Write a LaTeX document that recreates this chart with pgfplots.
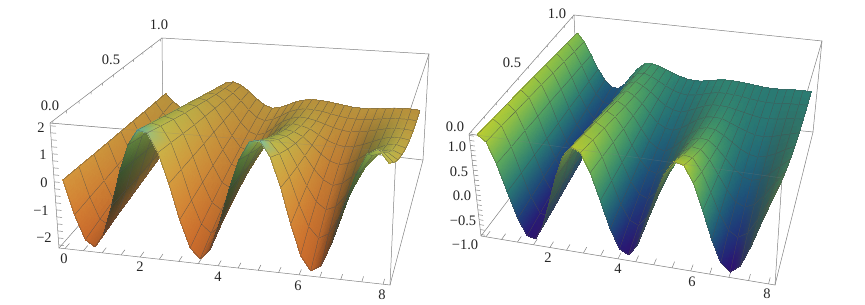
\documentclass[border=0pt]{standalone}
\usepackage{fontspec}
\setmainfont{Liberation Serif}
\usepackage{pgfplots}
\pgfplotsset{compat=1.18}
\usepgfplotslibrary{patchplots}
\tikzset{
  lbl/.style={font=\fontsize{14.5}{15}\selectfont,inner sep=0pt,text=black!85},
  boxl/.style={draw=black!50,line width=.5pt},
}
\begin{document}
\begin{tikzpicture}[declare function={
  bi(\p,\q,\r,\s,\u,\v)=(1-\v)*((1-\u)*\p+\u*\q)+\v*((1-\u)*\r+\u*\s);
  fs(\t,\p)=\t/(1+\p-\p*\t);
  fy(\t)=\t*1.3/(1+.3*\t);
  uL(\x)=fs((\x+.16)/8.32,.08);
  uR(\x)=fs((\x+.16)/8.32,.146);
  vv(\y)=fy((\y+.02)/1.04);
  wL(\z)=(\z+2.36)/4.46;
  wR(\z)=(\z+1.03)/2.06;
  sxL(\x,\y,\z)=(1-wL(\z))*bi(59,390,163,423,uL(\x),vv(\y))+wL(\z)*bi(50,396,162,429,uL(\x),vv(\y));
  syL(\x,\y,\z)=(1-wL(\z))*bi(248,285,130,160,uL(\x),vv(\y))+wL(\z)*bi(123,152,38,54,uL(\x),vv(\y));
  sxR(\x,\y,\z)=(1-wR(\z))*bi(481,775,578,813,uR(\x),vv(\y))+wR(\z)*bi(469,782,574,822,uR(\x),vv(\y));
  syR(\x,\y,\z)=(1-wR(\z))*bi(236,285,108,132,uR(\x),vv(\y))+wR(\z)*bi(134,178,15,41,uR(\x),vv(\y));
}]
\path[use as bounding box] (0,0) rectangle (865pt,305pt);
\def\X{\thisrow{x}}\def\Y{\thisrow{y}}\def\Z{\thisrow{z}}
\def\G{(1-\Y)}
\def\C{cos(128.57*\X)}\def\S{sin(128.57*\X)}
\def\D{((abs(\C)-\C)/2)}
\def\E{((abs(-\S-.9)-\S-.9)*5*(\X<6))}
\def\F{((abs(1-\Y/.12)+1-\Y/.12)/2)}
\def\H{((\Z+1)/2)}
\def\DR{((abs(\S)-\S)/2*\G)}
\begin{axis}[at={(0,0)},anchor=south west,scale only axis,width=865pt,height=305pt,
  xmin=0,xmax=865,ymin=0,ymax=305,y dir=reverse,hide axis,clip=false]
% ---------- left box
\draw[boxl] (axis cs:162,38)--(axis cs:429,54)--(axis cs:423,160)--(axis cs:163,130)--cycle;
\draw[boxl] (axis cs:50,123)--(axis cs:162,38) (axis cs:50,123)--(axis cs:59,248)--(axis cs:390,285)--(axis cs:423,160);
\draw[boxl] (axis cs:59,248)--(axis cs:163,130) (axis cs:429,54)--(axis cs:396,152)--(axis cs:390,285) (axis cs:50,123)--(axis cs:396,152);
% ---------- right box
\draw[boxl] (axis cs:574,15)--(axis cs:822,41)--(axis cs:813,132)--(axis cs:578,108)--cycle;
\draw[boxl] (axis cs:469,134)--(axis cs:574,15) (axis cs:469,134)--(axis cs:481,236)--(axis cs:775,285)--(axis cs:813,132);
\draw[boxl] (axis cs:481,236)--(axis cs:578,108) (axis cs:822,41)--(axis cs:782,178)--(axis cs:775,285) (axis cs:469,134)--(axis cs:782,178);
% ---------- ticks
\pgfplotsinvokeforeach{0,0.5,1,1.5,2,2.5,3,3.5,4,4.5,5,5.5,6,6.5,7,7.5,8}{
  \draw[boxl] (axis cs:{sxL(#1,-.02,-2.36)},{syL(#1,-.02,-2.36)})--(axis cs:{sxL(#1,.015,-2.36)},{syL(#1,.015,-2.36)});
  \draw[boxl] (axis cs:{sxR(#1,-.02,-1.03)},{syR(#1,-.02,-1.03)})--(axis cs:{sxR(#1,.015,-1.03)},{syR(#1,.015,-1.03)});
}
\pgfplotsinvokeforeach{0,.1,.2,.3,.4,.5,.6,.7,.8,.9,1}{
  \draw[boxl] (axis cs:{sxL(-.16,#1,2.1)},{syL(-.16,#1,2.1)})--(axis cs:{sxL(-.16,#1,2.0)},{syL(-.16,#1,2.0)});
  \draw[boxl] (axis cs:{sxR(-.16,#1,1.03)},{syR(-.16,#1,1.03)})--(axis cs:{sxR(-.16,#1,.99)},{syR(-.16,#1,.99)});
}
\pgfplotsinvokeforeach{-2.25,-2,-1.75,-1.5,-1.25,-1,-.75,-.5,-.25,0,.25,.5,.75,1,1.25,1.5,1.75,2}{
  \draw[boxl] (axis cs:{sxL(-.16,-.02,#1)},{syL(-.16,-.02,#1)})--(axis cs:{sxL(-.02,-.02,#1)},{syL(-.02,-.02,#1)});
}
\pgfplotsinvokeforeach{-1,-.9,-.8,-.7,-.6,-.5,-.4,-.3,-.2,-.1,0,.1,.2,.3,.4,.5,.6,.7,.8,.9,1}{
  \draw[boxl] (axis cs:{sxR(-.16,-.02,#1)},{syR(-.16,-.02,#1)})--(axis cs:{sxR(-.02,-.02,#1)},{syR(-.02,-.02,#1)});
}
% ---------- left surface
\addplot[surf,shader=faceted interp,faceted color=black!70,line width=.2pt,mesh/cols=33,
  mesh/color input=explicit mathparse,
  point meta={symbolic={.95*(.76+\G*(.12*\C+.02*\S-.42*\D))-.3*\E*\F,.92*(.62+\G*(.02*\C-.2*\S-.3*\D)),.9*(.26+\G*(-.08*\S-.08*\D))+.4*\E*\F}}]
 table[x expr={sxL(\X,\Y,\Z)},y expr={syL(\X,\Y,\Z)}]{
x y z
0 1 -.50
.25 1 -.85
.5 1 -1.10
.75 1 -1.20
1 1 -1.10
1.25 1 -.85
1.5 1 -.45
1.75 1 -.05
2 1 .25
2.25 1 .33
2.5 1 .20
2.75 1 -.05
3 1 -.35
3.25 1 -.60
3.5 1 -.72
3.75 1 -.65
4 1 -.50
4.25 1 -.33
4.5 1 -.22
4.75 1 -.17
5 1 -.17
5.25 1 -.20
5.5 1 -.25
5.75 1 -.30
6 1 -.34
6.25 1 -.35
6.5 1 -.33
6.75 1 -.30
7 1 -.26
7.25 1 -.22
7.5 1 -.20
7.75 1 -.20
8 1 -.22
0 .875 -.44
.25 .875 -.90
.5 .875 -1.22
.75 .875 -1.34
1 .875 -1.19
1.25 .875 -.84
1.5 .875 -.34
1.75 .875 .14
2 .875 .47
2.25 .875 .48
2.5 .875 .30
2.75 .875 -.02
3 .875 -.39
3.25 .875 -.69
3.5 .875 -.80
3.75 .875 -.71
4 .875 -.52
4.25 .875 -.31
4.5 .875 -.18
4.75 .875 -.12
5 .875 -.13
5.25 .875 -.17
5.5 .875 -.24
5.75 .875 -.31
6 .875 -.35
6.25 .875 -.37
6.5 .875 -.34
6.75 .875 -.31
7 .875 -.26
7.25 .875 -.21
7.5 .875 -.19
7.75 .875 -.18
8 .875 -.21
0 .75 -.38
.25 .75 -.94
.5 .75 -1.34
.75 .75 -1.47
1 .75 -1.28
1.25 .75 -.83
1.5 .75 -.23
1.75 .75 .33
2 .75 .69
2.25 .75 .66
2.5 .75 .42
2.75 .75 .01
3 .75 -.46
3.25 .75 -.82
3.5 .75 -.93
3.75 .75 -.82
4 .75 -.55
4.25 .75 -.27
4.5 .75 -.10
4.75 .75 0
5 .75 -.03
5.25 .75 -.10
5.5 .75 -.21
5.75 .75 -.32
6 .75 -.40
6.25 .75 -.43
6.5 .75 -.39
6.75 .75 -.33
7 .75 -.25
7.25 .75 -.17
7.5 .75 -.13
7.75 .75 -.12
8 .75 -.15
0 .625 -.31
.25 .625 -.99
.5 .625 -1.46
.75 .625 -1.61
1 .625 -1.36
1.25 .625 -.82
1.5 .625 -.11
1.75 .625 .52
2 .625 .92
2.25 .625 .86
2.5 .625 .55
2.75 .625 .04
3 .625 -.53
3.25 .625 -.98
3.5 .625 -1.10
3.75 .625 -.96
4 .625 -.60
4.25 .625 -.21
4.5 .625 .04
4.75 .625 .19
5 .625 .14
5.25 .625 .04
5.5 .625 -.16
5.75 .625 -.36
6 .625 -.49
6.25 .625 -.55
6.5 .625 -.50
6.75 .625 -.39
7 .625 -.24
7.25 .625 -.09
7.5 .625 0
7.75 .625 .01
8 .625 -.05
0 .5 -.25
.25 .5 -1.04
.5 .5 -1.59
.75 .5 -1.75
1 .5 -1.45
1.25 .5 -.81
1.5 .5 .01
1.75 .5 .71
2 .5 1.14
2.25 .5 1.07
2.5 .5 .69
2.75 .5 .08
3 .5 -.61
3.25 .5 -1.15
3.5 .5 -1.30
3.75 .5 -1.13
4 .5 -.67
4.25 .5 -.15
4.5 .5 .21
4.75 .5 .44
5 .5 .38
5.25 .5 .22
5.5 .5 -.09
5.75 .5 -.40
6 .5 -.64
6.25 .5 -.74
6.5 .5 -.66
6.75 .5 -.47
7 .5 -.21
7.25 .5 .03
7.5 .5 .19
7.75 .5 .23
8 .5 .13
0 .375 -.19
.25 .375 -1.08
.5 .375 -1.71
.75 .375 -1.88
1 .375 -1.54
1.25 .375 -.79
1.5 .375 .12
1.75 .375 .90
2 .375 1.36
2.25 .375 1.27
2.5 .375 .83
2.75 .375 .11
3 .375 -.70
3.25 .375 -1.33
3.5 .375 -1.52
3.75 .375 -1.31
4 .375 -.74
4.25 .375 -.07
4.5 .375 .43
4.75 .375 .74
5 .375 .69
5.25 .375 .45
5.5 .375 .01
5.75 .375 -.47
6 .375 -.83
6.25 .375 -1.01
6.5 .375 -.89
6.75 .375 -.60
7 .375 -.18
7.25 .375 .21
7.5 .375 .47
7.75 .375 .53
8 .375 .38
0 .25 -.13
.25 .25 -1.13
.5 .25 -1.83
.75 .25 -2.02
1 .25 -1.63
1.25 .25 -.78
1.5 .25 .23
1.75 .25 1.09
2 .25 1.58
2.25 .25 1.49
2.5 .25 .98
2.75 .25 .15
3 .25 -.80
3.25 .25 -1.53
3.5 .25 -1.76
3.75 .25 -1.51
4 .25 -.82
4.25 .25 .02
4.5 .25 .68
4.75 .25 1.09
5 .25 1.06
5.25 .25 .74
5.5 .25 .13
5.75 .25 -.55
6 .25 -1.09
6.25 .25 -1.35
6.5 .25 -1.20
6.75 .25 -.76
7 .25 -.13
7.25 .25 .44
7.5 .25 .83
7.75 .25 .93
8 .25 .70
0 .125 -.06
.25 .125 -1.17
.5 .125 -1.95
.75 .125 -2.15
1 .125 -1.71
1.25 .125 -.77
1.5 .125 .35
1.75 .125 1.28
2 .125 1.80
2.25 .125 1.72
2.5 .125 1.14
2.75 .125 .19
3 .125 -.90
3.25 .125 -1.73
3.5 .125 -2.02
3.75 .125 -1.72
4 .125 -.90
4.25 .125 .12
4.5 .125 .97
4.75 .125 1.50
5 .125 1.51
5.25 .125 1.08
5.5 .125 .28
5.75 .125 -.65
6 .125 -1.41
6.25 .125 -1.78
6.5 .125 -1.59
6.75 .125 -.97
7 .125 -.07
7.25 .125 .74
7.5 .125 1.30
7.75 .125 1.44
8 .125 1.12
0 0 0
.25 0 -1.22
.5 0 -2.07
.75 0 -2.29
1 0 -1.80
1.25 0 -.76
1.5 0 .46
1.75 0 1.47
2 0 2.02
2.25 0 1.95
2.5 0 1.29
2.75 0 .23
3 0 -1.00
3.25 0 -1.95
3.5 0 -2.30
3.75 0 -1.95
4 0 -1.00
4.25 0 .23
4.5 0 1.29
4.75 0 1.95
5 0 2.02
5.25 0 1.47
5.5 0 .46
5.75 0 -.76
6 0 -1.80
6.25 0 -2.29
6.5 0 -2.07
6.75 0 -1.22
7 0 0
7.25 0 1.10
7.5 0 1.86
7.75 0 2.06
8 0 1.62
};
% ---------- right surface
\addplot[surf,shader=faceted interp,faceted color=black!70,line width=.2pt,mesh/cols=33,
  mesh/color input=explicit mathparse,
  point meta={symbolic={.9*((.2-.6*\H+1.25*\H*\H)*(1-.7*\DR)+.175*\DR),.9*((.05+1.25*\H-.4*\H*\H)*(1-.7*\DR)+.19*\DR),.9*((.5+.25*\H-.55*\H*\H)*(1-.7*\DR)+.175*\DR)}}]
 table[x expr={sxR(\X,\Y,\Z)},y expr={syR(\X,\Y,\Z)}]{
x y z
0 1 .68
.25 1 .50
.5 1 .22
.75 1 -.08
1 1 -.30
1.25 1 -.44
1.5 1 -.46
1.75 1 -.35
2 1 -.15
2.25 1 .03
2.5 1 .15
2.75 1 .17
3 1 .13
3.25 1 .07
3.5 1 .01
3.75 1 -.05
4 1 -.09
4.25 1 -.11
4.5 1 -.10
4.75 1 -.07
5 1 -.04
5.25 1 -.02
5.5 1 -.02
5.75 1 -.03
6 1 -.05
6.25 1 -.07
6.5 1 -.09
6.75 1 -.10
7 1 -.10
7.25 1 -.09
7.5 1 -.08
7.75 1 -.08
8 1 -.08
0 .875 .72
.25 .875 .54
.5 .875 .25
.75 .875 -.08
1 .875 -.34
1.25 .875 -.50
1.5 .875 -.53
1.75 .875 -.40
2 .875 -.16
2.25 .875 .06
2.5 .875 .21
2.75 .875 .24
3 .875 .18
3.25 .875 .10
3.5 .875 .01
3.75 .875 -.07
4 .875 -.12
4.25 .875 -.14
4.5 .875 -.12
4.75 .875 -.08
5 .875 -.04
5.25 .875 -.01
5.5 .875 -.01
5.75 .875 -.02
6 .875 -.04
6.25 .875 -.07
6.5 .875 -.09
6.75 .875 -.11
7 .875 -.11
7.25 .875 -.10
7.5 .875 -.08
7.75 .875 -.08
8 .875 -.07
0 .75 .75
.25 .75 .59
.5 .75 .27
.75 .75 -.09
1 .75 -.38
1.25 .75 -.57
1.5 .75 -.59
1.75 .75 -.44
2 .75 -.17
2.25 .75 .09
2.5 .75 .28
2.75 .75 .34
3 .75 .26
3.25 .75 .15
3.5 .75 .01
3.75 .75 -.11
4 .75 -.18
4.25 .75 -.21
4.5 .75 -.16
4.75 .75 -.09
5 .75 -.02
5.25 .75 .03
5.5 .75 .03
5.75 .75 .02
6 .75 -.02
6.25 .75 -.06
6.5 .75 -.10
6.75 .75 -.13
7 .75 -.13
7.25 .75 -.12
7.5 .75 -.09
7.75 .75 -.07
8 .75 -.05
0 .625 .79
.25 .625 .63
.5 .625 .30
.75 .625 -.09
1 .625 -.42
1.25 .625 -.63
1.5 .625 -.66
1.75 .625 -.49
2 .625 -.18
2.25 .625 .13
2.5 .625 .35
2.75 .625 .44
3 .625 .35
3.25 .625 .20
3.5 .625 .01
3.75 .625 -.17
4 .625 -.26
4.25 .625 -.29
4.5 .625 -.22
4.75 .625 -.11
5 .625 0
5.25 .625 .08
5.5 .625 .10
5.75 .625 .09
6 .625 .02
6.25 .625 -.05
6.5 .625 -.12
6.75 .625 -.17
7 .625 -.19
7.25 .625 -.16
7.5 .625 -.11
7.75 .625 -.06
8 .625 -.01
0 .5 .83
.25 .5 .68
.5 .5 .33
.75 .5 -.10
1 .5 -.46
1.25 .5 -.69
1.5 .5 -.72
1.75 .5 -.53
2 .5 -.19
2.25 .5 .17
2.5 .5 .43
2.75 .5 .54
3 .5 .44
3.25 .5 .26
3.5 .5 .01
3.75 .5 -.23
4 .5 -.36
4.25 .5 -.40
4.5 .5 -.30
4.75 .5 -.14
5 .5 .03
5.25 .5 .16
5.5 .5 .21
5.75 .5 .19
6 .5 .09
6.25 .5 -.03
6.5 .5 -.15
6.75 .5 -.24
7 .5 -.27
7.25 .5 -.23
7.5 .5 -.15
7.75 .5 -.04
8 .5 .05
0 .375 .86
.25 .375 .72
.5 .375 .35
.75 .375 -.10
1 .375 -.50
1.25 .375 -.75
1.5 .375 -.79
1.75 .375 -.58
2 .375 -.19
2.25 .375 .21
2.5 .375 .52
2.75 .375 .65
3 .375 .55
3.25 .375 .32
3.5 .375 0
3.75 .375 -.29
4 .375 -.47
4.25 .375 -.52
4.5 .375 -.39
4.75 .375 -.18
5 .375 .06
5.25 .375 .27
5.5 .375 .34
5.75 .375 .32
6 .375 .18
6.25 .375 -.01
6.5 .375 -.20
6.75 .375 -.34
7 .375 -.39
7.25 .375 -.34
7.5 .375 -.19
7.75 .375 -.02
8 .375 .15
0 .25 .90
.25 .25 .76
.5 .25 .38
.75 .25 -.10
1 .25 -.54
1.25 .25 -.82
1.5 .25 -.85
1.75 .25 -.62
2 .25 -.20
2.25 .25 .25
2.5 .25 .60
2.75 .25 .76
3 .25 .66
3.25 .25 .39
3.5 .25 0
3.75 .25 -.37
4 .25 -.60
4.25 .25 -.67
4.5 .25 -.51
4.75 .25 -.22
5 .25 .11
5.25 .25 .39
5.5 .25 .52
5.75 .25 .49
6 .25 .30
6.25 .25 .02
6.5 .25 -.26
6.75 .25 -.48
7 .25 -.55
7.25 .25 -.47
7.5 .25 -.26
7.75 .25 .02
8 .25 .27
0 .125 .93
.25 .125 .81
.5 .125 .40
.75 .125 -.11
1 .125 -.58
1.25 .125 -.88
1.5 .125 -.92
1.75 .125 -.67
2 .125 -.21
2.25 .125 .30
2.5 .125 .69
2.75 .125 .87
3 .125 .78
3.25 .125 .46
3.5 .125 0
3.75 .125 -.45
4 .125 -.74
4.25 .125 -.82
4.5 .125 -.63
4.75 .125 -.27
5 .125 .16
5.25 .125 .54
5.5 .125 .73
5.75 .125 .70
6 .125 .44
6.25 .125 .06
6.5 .125 -.34
6.75 .125 -.64
7 .125 -.75
7.25 .125 -.64
7.5 .125 -.33
7.75 .125 .06
8 .125 .43
0 0 .97
.25 0 .85
.5 0 .43
.75 0 -.11
1 0 -.62
1.25 0 -.94
1.5 0 -.98
1.75 0 -.71
2 0 -.22
2.25 0 .34
2.5 0 .78
2.75 0 .99
3 0 .90
3.25 0 .53
3.5 0 0
3.75 0 -.53
4 0 -.90
4.25 0 -.99
4.5 0 -.78
4.75 0 -.33
5 0 .22
5.25 0 .71
5.5 0 .98
5.75 0 .94
6 0 .62
6.25 0 .11
6.5 0 -.43
6.75 0 -.85
7 0 -1.00
7.25 0 -.85
7.5 0 -.43
7.75 0 .11
8 0 .62
};
% faint box lines seen through the surface
\draw[draw=black!50,line width=.5pt,opacity=.3] (axis cs:50,123)--(axis cs:396,152) (axis cs:469,134)--(axis cs:782,178);
% ---------- labels
\node[lbl] at (axis cs:50,106) {0.0};
\node[lbl] at (axis cs:111,60) {0.5};
\node[lbl] at (axis cs:159,25) {1.0};
\node[lbl] at (axis cs:41,128) {2};
\node[lbl] at (axis cs:43,155) {1};
\node[lbl] at (axis cs:44,183) {0};
\node[lbl] at (axis cs:41,211) {−1};
\node[lbl] at (axis cs:44,238) {−2};
\node[lbl] at (axis cs:64,259) {0};
\node[lbl] at (axis cs:140,267) {2};
\node[lbl] at (axis cs:218,277) {4};
\node[lbl] at (axis cs:298,286) {6};
\node[lbl] at (axis cs:382,295) {8};
\node[lbl] at (axis cs:455,127) {0.0};
\node[lbl] at (axis cs:512,63) {0.5};
\node[lbl] at (axis cs:557,14) {1.0};
\node[lbl] at (axis cs:457,147) {1.0};
\node[lbl] at (axis cs:459,172) {0.5};
\node[lbl] at (axis cs:462,196) {0.0};
\node[lbl] at (axis cs:463,221) {−0.5};
\node[lbl] at (axis cs:465,245) {−1.0};
\node[lbl] at (axis cs:548,258) {2};
\node[lbl] at (axis cs:618,269) {4};
\node[lbl] at (axis cs:692,282) {6};
\node[lbl] at (axis cs:767,294) {8};
\end{axis}
\end{tikzpicture}
\end{document}
